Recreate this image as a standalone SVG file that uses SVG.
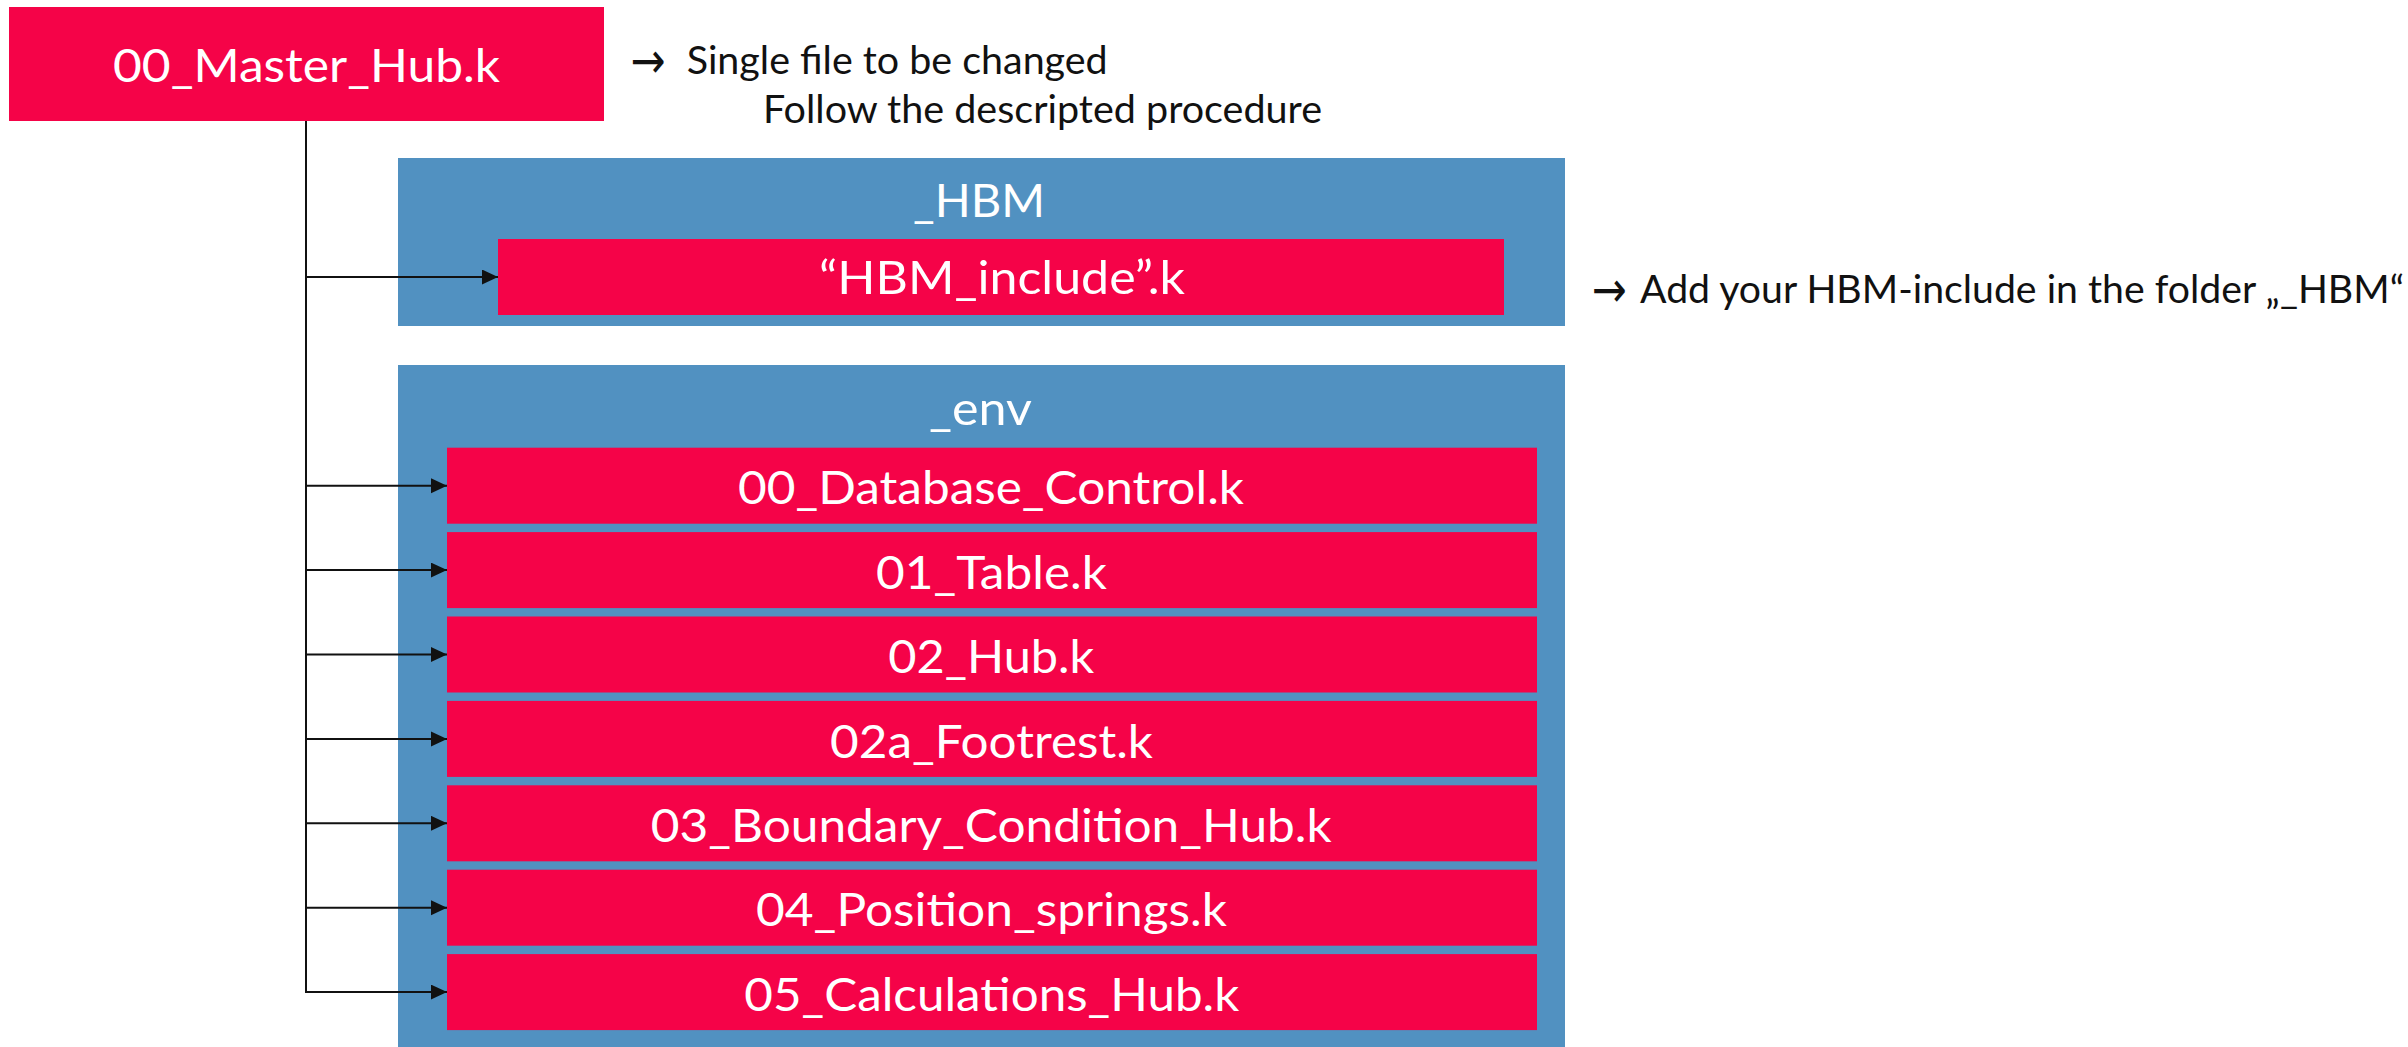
<svg xmlns="http://www.w3.org/2000/svg" width="2408" height="1047" viewBox="0 0 2408 1047">
  <style>
    .file { fill: #F50348; }
    .folder { fill: #5191C1; }
    .lbl { font-family: Lato, "Open Sans", "Liberation Sans", sans-serif; fill: #FFFFFF; font-size: 46px; }
    .note { font-family: Lato, "Open Sans", "Liberation Sans", sans-serif; fill: #111111; font-size: 39px; }
    .sym { font-family: "DejaVu Sans", sans-serif; fill: #111111; font-size: 50px; }
    .wire { fill: none; stroke: #111111; stroke-width: 2; }
  </style>
  <defs>
    <marker id="head" markerUnits="userSpaceOnUse" markerWidth="16" markerHeight="16" refX="16" refY="7.5" orient="auto">
      <path d="M0,0 L16,7.5 L0,15 Z" fill="#111111"/>
    </marker>
  </defs>

  <rect width="2408" height="1047" fill="#FFFFFF"/>

  <!-- master include file -->
  <g id="master">
    <rect class="file" x="9" y="7" width="595" height="114"/>
    <text class="lbl" x="113" y="81.7" font-size="47" textLength="387" lengthAdjust="spacingAndGlyphs">00_Master_Hub.k</text>
  </g>

  <!-- notes next to the master file -->
  <g id="note-master">
    <text class="note" y="74"><tspan class="sym" x="630.6" y="78" textLength="35" lengthAdjust="spacingAndGlyphs">→</tspan><tspan x="686.7" y="74" textLength="421" lengthAdjust="spacingAndGlyphs">Single file to be changed</tspan></text>
    <text class="note" x="763" y="123.3" textLength="559" lengthAdjust="spacingAndGlyphs">Follow the descripted procedure</text>
  </g>

  <!-- _HBM folder -->
  <g id="folder-hbm">
    <rect class="folder" x="398" y="158" width="1167" height="168"/>
    <text class="lbl" x="913" y="216.7" textLength="132" lengthAdjust="spacingAndGlyphs">_HBM</text>
  </g>
  <g id="hbm-include">
    <rect class="file" x="498" y="239" width="1006" height="76"/>
    <text class="lbl" x="819" y="294" textLength="366" lengthAdjust="spacingAndGlyphs">“HBM_include”.k</text>
  </g>

  <g id="note-hbm">
    <text class="note" y="303.3"><tspan class="sym" x="1591.7" y="307.3" textLength="35" lengthAdjust="spacingAndGlyphs">→</tspan><tspan x="1640" y="303.3" textLength="764" lengthAdjust="spacingAndGlyphs">Add your HBM-include in the folder „_HBM“</tspan></text>
  </g>

  <!-- _env folder -->
  <g id="folder-env">
    <rect class="folder" x="398" y="365" width="1167" height="682"/>
    <text class="lbl" x="929" y="425" textLength="103" lengthAdjust="spacingAndGlyphs">_env</text>
  </g>

  <g id="env-00">
    <rect class="file" x="447" y="447.7" width="1090" height="76"/>
    <text class="lbl" x="738" y="504.3" textLength="506" lengthAdjust="spacingAndGlyphs">00_Database_Control.k</text>
  </g>
  <g id="env-01">
    <rect class="file" x="447" y="532.1" width="1090" height="76"/>
    <text class="lbl" x="876" y="588.7" textLength="231" lengthAdjust="spacingAndGlyphs">01_Table.k</text>
  </g>
  <g id="env-02">
    <rect class="file" x="447" y="616.5" width="1090" height="76"/>
    <text class="lbl" x="888.3" y="673.1" textLength="206" lengthAdjust="spacingAndGlyphs">02_Hub.k</text>
  </g>
  <g id="env-02a">
    <rect class="file" x="447" y="700.9" width="1090" height="76"/>
    <text class="lbl" x="830" y="757.5" textLength="323" lengthAdjust="spacingAndGlyphs">02a_Footrest.k</text>
  </g>
  <g id="env-03">
    <rect class="file" x="447" y="785.3" width="1090" height="76"/>
    <text class="lbl" x="650.7" y="841.9" textLength="681" lengthAdjust="spacingAndGlyphs">03_Boundary_Condition_Hub.k</text>
  </g>
  <g id="env-04">
    <rect class="file" x="447" y="869.7" width="1090" height="76"/>
    <text class="lbl" x="756" y="926.3" textLength="471" lengthAdjust="spacingAndGlyphs">04_Position_springs.k</text>
  </g>
  <g id="env-05">
    <rect class="file" x="447" y="954.1" width="1090" height="76"/>
    <text class="lbl" x="744.3" y="1010.7" textLength="495" lengthAdjust="spacingAndGlyphs">05_Calculations_Hub.k</text>
  </g>

  <!-- include links from the master file -->
  <g id="connectors">
    <line class="wire" x1="306" y1="121" x2="306" y2="992.7"/>
    <line class="wire" x1="305" y1="277" x2="498" y2="277" marker-end="url(#head)"/>
    <line class="wire" x1="305" y1="485.7" x2="447" y2="485.7" marker-end="url(#head)"/>
    <line class="wire" x1="305" y1="570.1" x2="447" y2="570.1" marker-end="url(#head)"/>
    <line class="wire" x1="305" y1="654.5" x2="447" y2="654.5" marker-end="url(#head)"/>
    <line class="wire" x1="305" y1="738.9" x2="447" y2="738.9" marker-end="url(#head)"/>
    <line class="wire" x1="305" y1="823.3" x2="447" y2="823.3" marker-end="url(#head)"/>
    <line class="wire" x1="305" y1="907.7" x2="447" y2="907.7" marker-end="url(#head)"/>
    <line class="wire" x1="305" y1="992.1" x2="447" y2="992.1" marker-end="url(#head)"/>
  </g>
</svg>
